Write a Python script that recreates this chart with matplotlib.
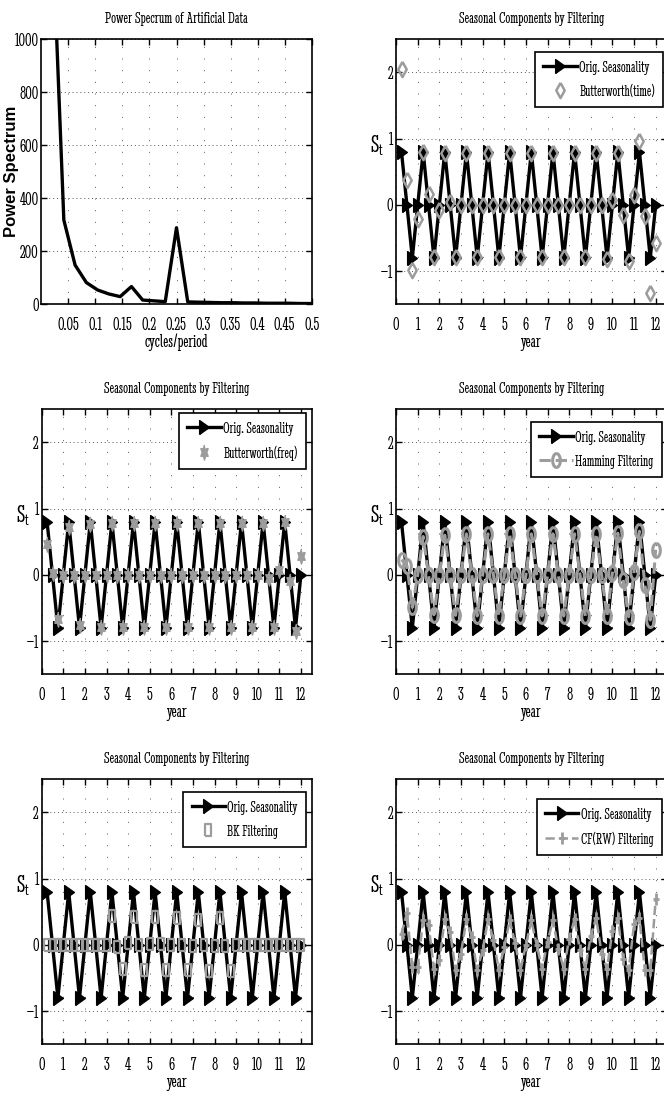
"""
Power spectrum of the artificial quarterly series and the seasonal
components recovered by five different filters.
"""

import matplotlib
matplotlib.use('Agg')
import matplotlib.pyplot as plt
import numpy as np

# ---------------------------------------------------------------------------
# Data
# ---------------------------------------------------------------------------
# Frequencies k/48 for k = 1..24 (cycles per period)
FREQS = np.arange(1, 25) / 48.0
POWER = [1400, 318, 148, 82, 54, 39, 29, 67, 16, 13, 10, 289,
         9, 8, 7, 6, 6, 5, 5, 4, 4, 4, 3, 3]

# Quarterly time grid in years
YEARS = np.arange(1, 49) / 4.0

ORIG_SEASONALITY = [0.8, 0.0, -0.8, 0.0, 0.8, 0.0, -0.8, 0.0, 0.8, 0.0, -0.8, 0.0,
                    0.8, 0.0, -0.8, 0.0, 0.8, 0.0, -0.8, 0.0, 0.8, 0.0, -0.8, 0.0,
                    0.8, 0.0, -0.8, 0.0, 0.8, 0.0, -0.8, 0.0, 0.8, 0.0, -0.8, 0.0,
                    0.8, 0.0, -0.8, 0.0, 0.8, 0.0, -0.8, 0.0, 0.8, 0.0, -0.8, 0.0]

BUTTER_TIME = [2.05, 0.38, -0.98, -0.22, 0.80, 0.17, -0.78, -0.07, 0.78, 0.05, -0.78, 0.00,
               0.78, 0.00, -0.78, 0.00, 0.78, 0.00, -0.78, 0.00, 0.78, 0.00, -0.78, 0.00,
               0.78, 0.00, -0.78, 0.00, 0.78, 0.00, -0.78, 0.00, 0.78, 0.00, -0.78, 0.00,
               0.78, 0.00, -0.82, 0.07, 0.78, -0.15, -0.84, 0.15, 0.97, -0.16, -1.33, -0.58]

BUTTER_FREQ = [0.47, 0.03, -0.66, 0.00, 0.72, 0.00, -0.76, 0.00, 0.77, 0.00, -0.78, 0.00,
               0.79, 0.00, -0.79, 0.00, 0.79, 0.00, -0.79, 0.00, 0.79, 0.00, -0.79, 0.00,
               0.79, 0.00, -0.79, 0.00, 0.79, 0.00, -0.79, 0.00, 0.79, 0.00, -0.79, 0.00,
               0.79, 0.00, -0.79, 0.00, 0.79, -0.04, -0.78, 0.07, 0.80, -0.09, -0.85, 0.29]

HAMMING = [0.23, 0.14, -0.49, 0.00, 0.58, 0.00, -0.60, 0.00, 0.60, 0.00, -0.61, 0.00,
           0.62, 0.00, -0.62, 0.00, 0.62, 0.00, -0.62, 0.00, 0.62, 0.00, -0.62, 0.00,
           0.62, 0.00, -0.62, 0.00, 0.62, 0.00, -0.62, 0.00, 0.62, 0.00, -0.62, 0.00,
           0.62, 0.00, -0.62, 0.03, 0.63, -0.08, -0.63, 0.05, 0.66, -0.15, -0.68, 0.38]

BK = [0.00, 0.00, 0.00, 0.00, 0.00, 0.00, 0.00, 0.00, 0.00, 0.00, 0.00, 0.00,
      0.44, -0.03, -0.36, 0.03, 0.42, 0.00, -0.38, 0.02, 0.42, 0.02, -0.38, 0.00,
      0.40, 0.00, -0.38, -0.02, 0.38, 0.00, -0.40, -0.02, 0.40, -0.02, -0.40, 0.00,
      0.00, 0.00, 0.00, 0.00, 0.00, 0.00, 0.00, 0.00, 0.00, 0.00, 0.00, 0.00]

CF_RW = [0.17, 0.48, -0.33, -0.33, 0.38, 0.30, -0.36, -0.23, 0.39, 0.19, -0.38, -0.13,
         0.39, 0.12, -0.38, -0.08, 0.39, 0.07, -0.38, -0.03, 0.37, 0.03, -0.38, 0.00,
         0.37, 0.00, -0.36, 0.05, 0.37, -0.06, -0.36, 0.09, 0.39, -0.08, -0.36, 0.14,
         0.41, -0.13, -0.36, 0.21, 0.40, -0.21, -0.38, 0.31, 0.40, -0.38, -0.38, 0.69]

FREQ_TICKS = [0.05, 0.1, 0.15, 0.2, 0.25, 0.3, 0.35, 0.4, 0.45, 0.5]
FREQ_TICK_LABELS = ['0.05', '0.1', '0.15', '0.2', '0.25', '0.3', '0.35', '0.4', '0.45', '0.5']
POWER_TICKS = [0, 200, 400, 600, 800, 1000]
YEAR_TICKS = list(range(0, 13))
SEASONAL_TICKS = [-1, 0, 1, 2]

# ---------------------------------------------------------------------------
# Styling
# ---------------------------------------------------------------------------
W, H = 664, 1104
GRAY = '#9c9c9c'
TITLE = 'Seasonal Components by Filtering'
SERIF = ['Stint Ultra Condensed', 'Liberation Serif', 'DejaVu Serif']

plt.rcParams['font.family'] = SERIF
plt.rcParams['mathtext.fontset'] = 'custom'
plt.rcParams['mathtext.rm'] = 'Stint Ultra Condensed'
plt.rcParams['mathtext.it'] = 'Stint Ultra Condensed'

# axes boxes in pixels: left, top, right, bottom
BOXES = [
    (41.3, 39.3, 311.7, 304.3),
    (396.1, 39.3, 666.5, 304.3),
    (41.7, 409.3, 311.7, 674.3),
    (396.1, 409.3, 666.5, 674.3),
    (41.7, 779.3, 311.7, 1044.3),
    (396.1, 779.3, 666.5, 1044.3),
]


def narrow(verts, squeeze=0.55):
    """Marker vertices squeezed horizontally"""
    return [(x * squeeze, y) for x, y in verts]


TRI = narrow([(-1, -1), (1, 0), (-1, 1), (-1, -1)], 0.7)
DIAMOND = narrow([(0, 1), (1, 0), (0, -1), (-1, 0), (0, 1)])
SQUARE = narrow([(-1, -1), (1, -1), (1, 1), (-1, 1), (-1, -1)])
ang = np.linspace(0, 2 * np.pi, 40)
ELLIPSE = narrow(list(zip(np.sin(ang), np.cos(ang))))
star_ang = np.pi / 2 + np.arange(12) * np.pi / 6
star_r = np.where(np.arange(12) % 2 == 0, 1.0, 0.55)
HEXAGRAM = narrow(list(zip(star_r * np.cos(star_ang), star_r * np.sin(star_ang))))
PLUS = matplotlib.path.Path(narrow([(-1, 0), (1, 0), (0, -1), (0, 1)]),
                            [1, 2, 1, 2])

ORIG_STYLE = dict(color='k', lw=2.4, marker=TRI, ms=10, mfc='k', mec='k', mew=1.0)

FILTERS = [
    ('Butterworth(time)', BUTTER_TIME,
     dict(ls='none', marker=DIAMOND, ms=11, mfc='none', mec=GRAY, mew=1.8)),
    ('Butterworth(freq)', BUTTER_FREQ,
     dict(ls='none', marker=HEXAGRAM, ms=11, mfc=GRAY, mec=GRAY, mew=1.0)),
    ('Hamming Filtering', HAMMING,
     dict(ls='--', color=GRAY, lw=2.2, marker=ELLIPSE, ms=10, mfc='none', mec=GRAY, mew=2.2)),
    ('BK Filtering', BK,
     dict(ls='none', marker=SQUARE, ms=8, mfc='none', mec=GRAY, mew=1.6)),
    ('CF(RW) Filtering', CF_RW,
     dict(ls='--', color=GRAY, lw=1.8, marker=PLUS, ms=9, mfc='none', mec=GRAY, mew=2.0)),
]

# legend boxes (right, top) in pixels
LEGEND_ANCHORS = [(663.3, 51.7), (306.0, 413.3), (661.7, 421.7),
                  (306.0, 791.7), (661.7, 799.0)]


def make_axes(fig, box):
    left, top, right, bottom = box
    return fig.add_axes([left / W, 1 - bottom / H, (right - left) / W, (bottom - top) / H])


def style_axes(ax):
    for spine in ax.spines.values():
        spine.set_linewidth(1.2)
    ax.tick_params(direction='in', top=True, right=True, length=4, width=1.0,
                   labelsize=14)
    ax.tick_params(axis='x', pad=9)
    ax.tick_params(axis='y', pad=2)
    ax.xaxis.grid(True, color='0.35', lw=0.7, linestyle=(0, (1, 11)))
    ax.yaxis.grid(True, color='0.35', lw=0.7, linestyle=(0, (1, 3)))
    ax.set_axisbelow(True)


def plot_power_spectrum(ax):
    ax.plot(FREQS, POWER, color='k', lw=2.4, solid_joinstyle='round')
    ax.set_xlim(0, 0.5)
    ax.set_ylim(0, 1000)
    ax.set_xticks(FREQ_TICKS)
    ax.set_xticklabels(FREQ_TICK_LABELS)
    ax.set_yticks(POWER_TICKS)
    style_axes(ax)
    ax.set_title('Power Specrum of Artificial Data', fontsize=12.5, pad=12)
    ax.set_xlabel('cycles/period', fontsize=14, labelpad=0)
    ax.set_ylabel('Power Spectrum', fontsize=12, fontweight='bold',
                  family='Liberation Sans', va='center')
    ax.yaxis.set_label_coords(-0.11, 0.5)


def plot_seasonal(ax, label, values, style, anchor):
    box = ax.get_position()
    ax.plot(YEARS, ORIG_SEASONALITY, label='Orig. Seasonality', **ORIG_STYLE)
    ax.plot(YEARS, values, label=label, **style)
    ax.set_xlim(0, 12.5)
    ax.set_ylim(-1.5, 2.5)
    ax.set_xticks(YEAR_TICKS)
    ax.set_yticks(SEASONAL_TICKS)
    style_axes(ax)
    ax.set_title(TITLE, fontsize=12.5, pad=12)
    ax.set_xlabel('year', fontsize=14, labelpad=0)
    ax.set_ylabel(r'$\mathrm{S}_\mathrm{t}$', fontsize=18, rotation=0,
                  va='center', ha='center')
    ax.yaxis.set_label_coords(-0.07, 0.6)

    # anchor the legend by its upper-right corner, given in pixels
    bx = (anchor[0] / W - box.x0) / box.width
    by = ((1 - anchor[1] / H) - box.y0) / box.height
    leg = ax.legend(loc='upper right', bbox_to_anchor=(bx, by), fontsize=12,
                    frameon=True, fancybox=False, framealpha=1, edgecolor='k',
                    borderaxespad=0, handlelength=2.0, handletextpad=0.15,
                    borderpad=0.5, labelspacing=0.55)
    leg.get_frame().set_linewidth(1.2)


def main():
    fig = plt.figure(figsize=(W / 100, H / 100), dpi=100)
    axes = [make_axes(fig, b) for b in BOXES]

    plot_power_spectrum(axes[0])
    for ax, (label, values, style), anchor in zip(axes[1:], FILTERS, LEGEND_ANCHORS):
        plot_seasonal(ax, label, values, style, anchor)

    fig.savefig('out.png', dpi=100)
    plt.close(fig)


if __name__ == '__main__':
    main()
